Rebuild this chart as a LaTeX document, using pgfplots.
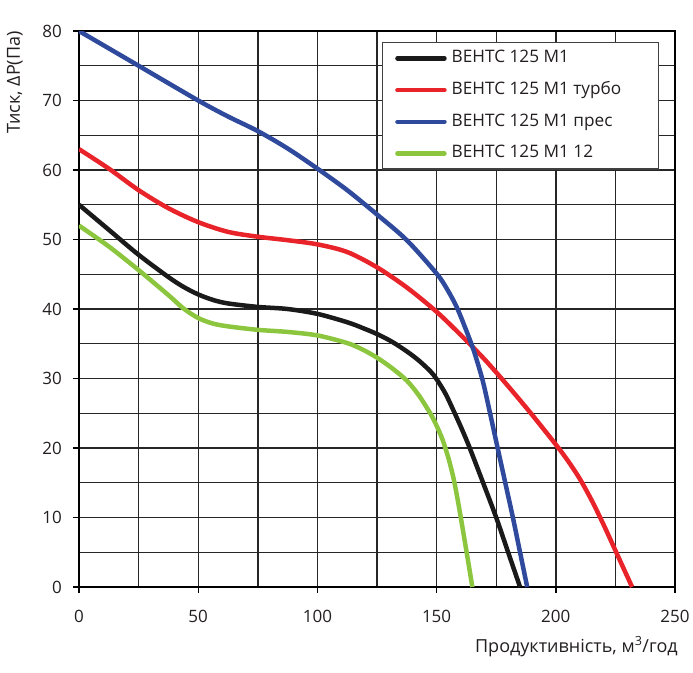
\documentclass[border=0pt]{standalone}
\usepackage{fontspec}
\setmainfont{Open Sans}
\usepackage{pgfplots}
\pgfplotsset{compat=1.18}
\definecolor{cblack}{HTML}{1A1A1A}
\definecolor{cred}{HTML}{E8232A}
\definecolor{cblue}{HTML}{2F4A9C}
\definecolor{cgreen}{HTML}{8CC63F}
\definecolor{ctext}{HTML}{231F20}
\begin{document}
\begin{tikzpicture}
\useasboundingbox (-79pt,-85pt) rectangle (614pt,587pt);
\begin{axis}[
  scale only axis, width=596pt, height=556pt,
  xmin=0, xmax=250, ymin=0, ymax=80,
  xtick={0,50,...,250}, ytick={0,10,...,80},
  minor xtick={25,75,...,225}, minor ytick={5,15,...,75},
  grid=both,
  major grid style={black!85, line width=1.4pt},
  minor grid style={black!85, line width=1.4pt},
  axis line style={black, line width=2.2pt},
  tick align=outside, tick pos=left,
  major tick length=6pt, minor tick length=0pt,
  every tick/.style={black, line width=1.4pt},
  /pgf/number format/assume math mode=true,
  tick label style={font=\fontsize{17}{20}\selectfont, text=ctext},
  yticklabel style={inner sep=0pt, xshift=-11pt},
  xticklabel style={inner sep=0pt, yshift=-17pt},
  xlabel={Продуктивність, м\textsuperscript{3}/год},
  ylabel={Тиск, ΔР(Па)},
  xlabel style={at={(axis description cs:1.005,-0.117)}, anchor=base east, inner sep=0pt, font=\fontsize{18}{21}\selectfont, text=ctext},
  ylabel style={at={(axis description cs:-0.1074,1)}, anchor=east, inner sep=0pt, font=\fontsize{18}{21}\selectfont, text=ctext},
  legend style={at={(0.9737,0.9797)}, anchor=north east, draw=black!75, line width=1.2pt, fill=white,
    inner xsep=13pt, inner ysep=8pt, row sep=16.7pt, column sep=5pt,
    font=\fontsize{17.2}{20}\selectfont, text=ctext,
    nodes={inner sep=0pt, text height=12pt, text depth=3pt}},
  legend cell align=left,
  legend image code/.code={\draw[#1, line cap=round] (0pt,0pt) -- (47pt,0pt);},
]
\addplot[cblack, line width=4.5pt, smooth, line join=round] coordinates {
 (0,55) (12.5,51.4) (25,47.8) (37.5,44.6) (43.75,43.2) (50,42.1) (56.25,41.3)
 (62.5,40.8) (75,40.3) (87.5,40.0) (100,39.3) (112.5,38.1) (118.75,37.3) (125,36.4)
 (131.25,35.3) (137.5,33.9) (142.5,32.6) (147.5,31.0) (150,29.9) (153.75,27.8)
 (157.6,25) (160.75,22.6) (163.9,20) (169.5,15) (175,10) (180,5) (185,0)};
\addlegendentry{\makebox[194pt][l]{ВЕНТС 125 М1}}
\addplot[cred, line width=4.5pt, smooth, line join=round] coordinates {
 (0,63) (12.5,60.2) (25,57.1) (37.5,54.5) (50,52.5) (62.5,51.1) (75,50.4) (87.5,49.9)
 (100,49.3) (112.5,48.2) (125,46) (137.5,43.1) (150,39.6) (160,36.3) (170,32.8)
 (180,28.9) (190,24.8) (200,20.5) (205,18.2) (210,15.6) (215,12.5) (220,9.0)
 (226,4.5) (232,0)};
\addlegendentry{\makebox[194pt][l]{ВЕНТС 125 М1 турбо}}
\addplot[cblue, line width=4.5pt, smooth, line join=round] coordinates {
 (0,80) (25,75) (50,70) (62.5,67.7) (75,65.6) (87.5,63.1)
 (100,60.2) (112.5,57.1) (125,53.6) (137.5,49.9) (150,45.1) (154.5,42.8) (158.4,40.3)
 (162,37.3) (165.3,34.3) (167.6,31.8) (169.7,29.2) (172.3,25.2) (175.6,20) (178.8,15)
 (182,10) (185,5) (188,0)};
\addlegendentry{\makebox[194pt][l]{ВЕНТС 125 М1 прес}}
\addplot[cgreen, line width=4.5pt, smooth, line join=round] coordinates {
 (0,52) (12.5,49.0) (25,45.6) (37.5,42.0) (43.75,40.1) (50,38.7) (56.25,37.9)
 (62.5,37.5) (75,37.0) (87.5,36.7) (100,36.2) (112.5,35.1) (118.75,34.2) (125,33.0)
 (131.25,31.5) (137.5,29.7) (142.5,27.6) (147.5,24.9) (150,23.2) (152.5,21.2)
 (155,18.5) (157,15.8) (158.5,13.2) (160,10.3) (162.5,5.2) (165,0)};
\addlegendentry{\makebox[194pt][l]{ВЕНТС 125 М1 12}}
\end{axis}
\end{tikzpicture}
\end{document}
